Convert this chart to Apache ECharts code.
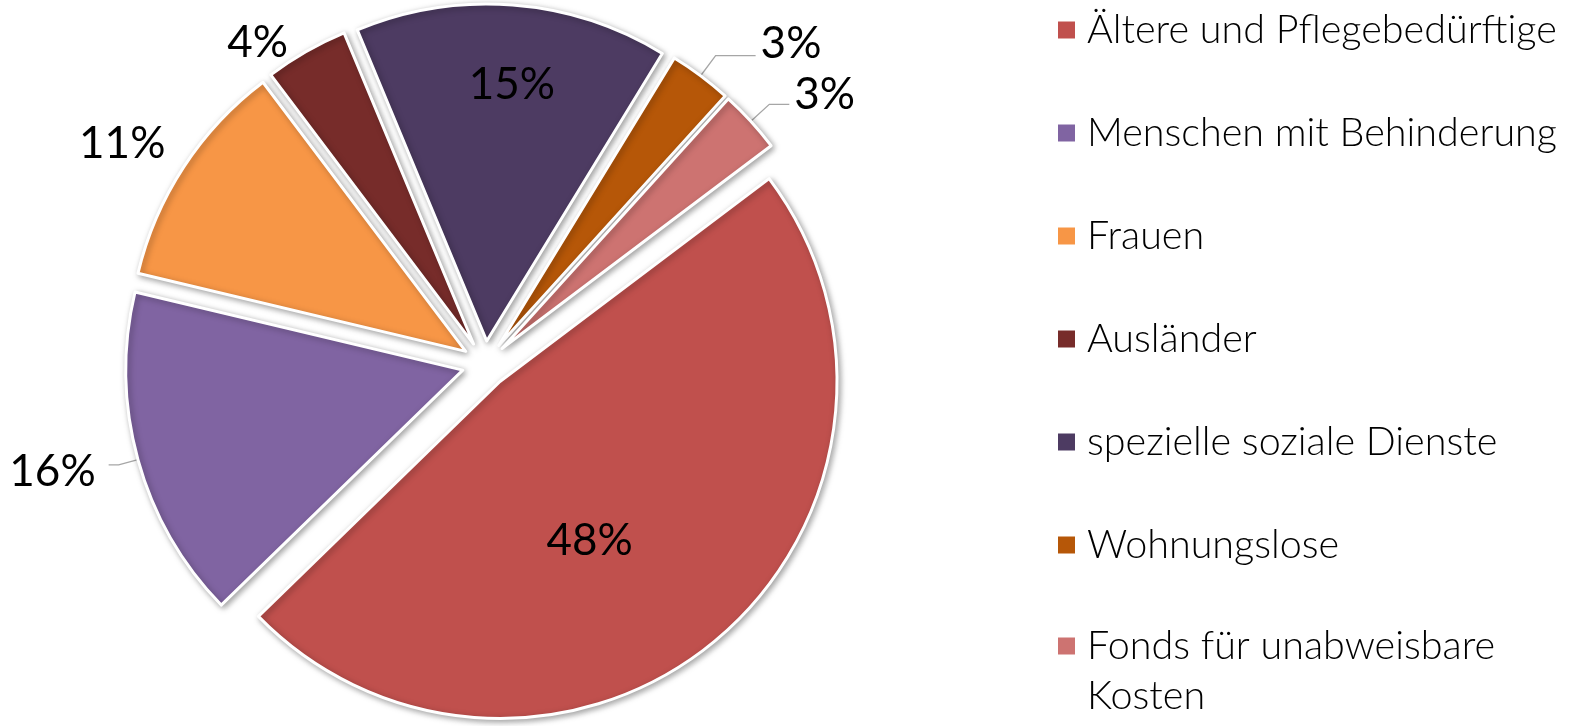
<!DOCTYPE html>
<html>
<head>
<meta charset="utf-8">
<script src="https://cdn.jsdelivr.net/npm/echarts@6/dist/echarts.min.js"></script>
<style>
  html, body { margin: 0; padding: 0; background: #fff; }
  #chart { width: 1577px; height: 726px; }
</style>
</head>
<body>
<div id="chart"></div>
<script>
  // Anteile je Bereich (Prozent)
  const categories = [
    'Ältere und Pflegebedürftige',
    'Menschen mit Behinderung',
    'Frauen',
    'Ausländer',
    'spezielle soziale Dienste',
    'Wohnungslose',
    'Fonds für unabweisbare Kosten'
  ];
  const shares = [48, 16, 11, 4, 15, 3, 3];

  const colors = ['#C0504D', '#8064A2', '#F79646', '#772C2A', '#4D3B62', '#B65708', '#CD7371'];
  const font = 'Lato, "Open Sans", sans-serif';

  // label placement per slice (inside / outside with leader line)
  const labelCfg = [
    { label: { position: 'inside' } },
    { label: { position: 'outside' }, labelLine: { show: true, length: 20, length2: 10 } },
    { label: { position: 'outside' }, labelLine: { show: false, length: 10, length2: 5 } },
    { label: { position: 'outside' }, labelLine: { show: false, length: 10, length2: 8 } },
    { label: { position: 'inside' } },
    { label: { position: 'outside' }, labelLine: { show: true, length: 25, length2: 40 } },
    { label: { position: 'outside' }, labelLine: { show: true, length: 25, length2: 20 } }
  ];
  // small nudges so the labels sit where the original puts them
  const labelShift = {
    0: { dx: -22, dy: 29 },
    1: { dx: -8, dy: 7 },
    2: { dx: 0, dy: -18 },
    4: { dx: 12, dy: -85 },
    5: { dx: 0, dy: -12 },
    6: { dx: 0, dy: -10 }
  };

  const pieData = categories.map(function (name, i) {
    return Object.assign({
      name: name,
      value: shares[i],
      selected: true,
      itemStyle: { color: colors[i] }
    }, labelCfg[i]);
  });

  const chart = echarts.init(document.getElementById('chart'));

  const legendText = {
    fontFamily: font,
    fontWeight: 300,
    fontSize: 39.5,
    color: '#000',
    lineHeight: 50
  };

  chart.setOption({
    animation: false,
    legend: [
      {
        orient: 'vertical',
        left: 1056,
        top: 5,
        padding: 0,
        itemWidth: 19,
        itemHeight: 19,
        itemGap: 53,
        icon: 'rect',
        selectedMode: false,
        data: categories.slice(0, 6),
        textStyle: Object.assign({ padding: [0, 0, 0, 6] }, legendText)
      },
      {
        orient: 'vertical',
        left: 1056,
        top: 571,
        padding: 0,
        itemWidth: 19,
        itemHeight: 19,
        icon: 'rect',
        selectedMode: false,
        data: categories.slice(6),
        // empty first line keeps the icon level with the first text line
        formatter: function (name) {
          return '\n' + name.replace(' Kosten', '\nKosten');
        },
        textStyle: Object.assign({ padding: [0, 0, 0, 6] }, legendText)
      }
    ],
    series: [
      {
        type: 'pie',
        center: [485, 364],
        radius: 337,
        startAngle: 37,
        clockwise: true,
        selectedMode: 'multiple',
        selectedOffset: 23,
        avoidLabelOverlap: false,
        percentPrecision: 0,
        itemStyle: {
          borderColor: '#fff',
          borderWidth: 3,
          shadowBlur: 6,
          shadowColor: 'rgba(0,0,0,0.35)',
          shadowOffsetX: 2,
          shadowOffsetY: 2
        },
        label: {
          formatter: '{d}%',
          fontFamily: font,
          fontSize: 44,
          color: '#000'
        },
        labelLine: {
          lineStyle: { color: '#A6A6A6', width: 1.3 }
        },
        labelLayout: function (params) {
          return labelShift[params.dataIndex] || {};
        },
        emphasis: { disabled: true },
        data: pieData
      }
    ]
  });
</script>
</body>
</html>
